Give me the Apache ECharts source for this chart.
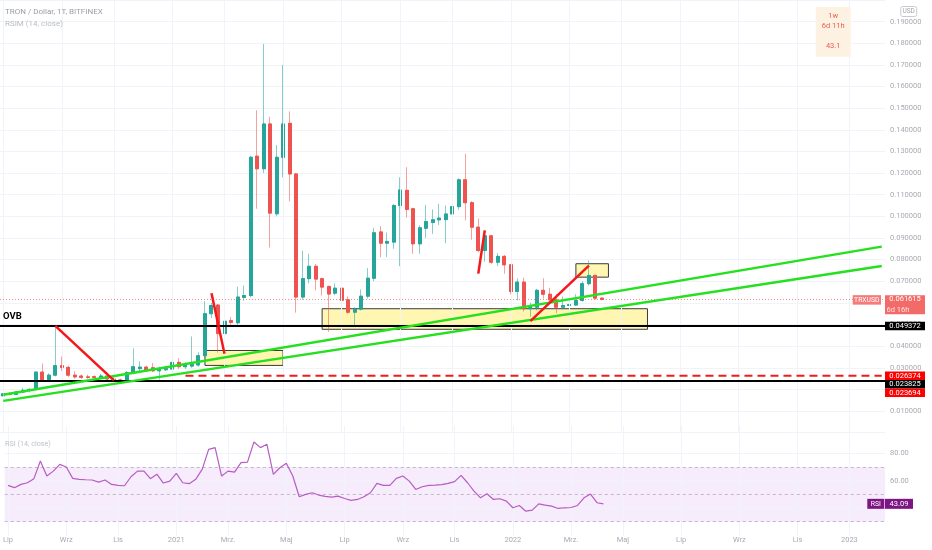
<!DOCTYPE html>
<html>
<head>
<meta charset="utf-8">
<script src="https://cdn.jsdelivr.net/npm/echarts@6/dist/echarts.min.js"></script>
<style>
  html, body { margin: 0; padding: 0; background: #fff; }
  #chart { width: 932px; height: 550px; }
</style>
</head>
<body>
<div id="chart"></div>
<script>
// weekly TRX/USD candles, first bar = week of 2020-07-06
var opens = [0.0170,0.0181,0.0177,0.0188,0.0196,0.0200,0.0280,0.0241,0.0266,0.0310,
  0.0302,0.0266,0.0262,0.0258,0.0259,0.0256,0.0262,0.0248,0.0244,0.0241,
  0.0278,0.0296,0.0303,0.0300,0.0286,0.0291,0.0294,0.0325,0.0305,0.0308,
  0.0313,0.0356,0.0550,0.0590,0.0458,0.0518,0.0508,0.0625,0.0634,0.1278,
  0.1220,0.1427,0.1012,0.1273,0.1430,0.1196,0.0627,0.0712,0.0769,0.0712,
  0.0676,0.0645,0.0668,0.0614,0.0557,0.0571,0.0631,0.0714,0.0928,0.0876,
  0.0881,0.1050,0.1120,0.1035,0.0873,0.0945,0.0972,0.0984,0.0985,0.1011,
  0.1045,0.1169,0.1063,0.0950,0.0842,0.0910,0.0788,0.0815,0.0776,0.0653,
  0.0696,0.0573,0.0580,0.0658,0.0640,0.0614,0.0580,0.0588,0.0590,0.0611,
  0.0689,0.0727,0.0622];
var highs = [0.0185,0.0188,0.0192,0.0208,0.0206,0.0285,0.0320,0.0275,0.0494,0.0352,
  0.0310,0.0284,0.0270,0.0268,0.0265,0.0272,0.0266,0.0255,0.0250,0.0285,
  0.0390,0.0330,0.0310,0.0322,0.0305,0.0310,0.0360,0.0345,0.0325,0.0445,
  0.0372,0.0608,0.0600,0.0595,0.0530,0.0535,0.0675,0.0680,0.1280,0.1490,
  0.1797,0.1460,0.1330,0.1700,0.1485,0.1200,0.0842,0.0827,0.0780,0.0716,
  0.0680,0.0690,0.0672,0.0630,0.0580,0.0662,0.0761,0.0947,0.0955,0.0925,
  0.1058,0.1181,0.1227,0.1040,0.0958,0.1053,0.1032,0.1058,0.1050,0.1100,
  0.1176,0.1289,0.1070,0.0990,0.0925,0.0912,0.0830,0.0822,0.0780,0.0714,
  0.0716,0.0601,0.0665,0.0714,0.0670,0.0640,0.0630,0.0635,0.0640,0.0700,
  0.0796,0.0730,0.0625];
var lows = [0.0165,0.0172,0.0175,0.0184,0.0186,0.0196,0.0236,0.0235,0.0260,0.0286,
  0.0258,0.0250,0.0248,0.0250,0.0250,0.0252,0.0242,0.0238,0.0236,0.0238,
  0.0270,0.0285,0.0282,0.0280,0.0245,0.0285,0.0285,0.0295,0.0295,0.0300,
  0.0305,0.0350,0.0530,0.0370,0.0440,0.0495,0.0490,0.0610,0.0625,0.1035,
  0.1200,0.0856,0.1000,0.1180,0.1070,0.0555,0.0615,0.0690,0.0658,0.0634,
  0.0466,0.0635,0.0600,0.0550,0.0490,0.0565,0.0620,0.0700,0.0811,0.0812,
  0.0850,0.0770,0.0995,0.0827,0.0827,0.0900,0.0919,0.0960,0.0876,0.0985,
  0.1030,0.0981,0.0892,0.0835,0.0790,0.0780,0.0770,0.0735,0.0640,0.0611,
  0.0560,0.0535,0.0565,0.0620,0.0600,0.0553,0.0570,0.0578,0.0585,0.0605,
  0.0680,0.0615,0.0612];
var closes = [0.0180,0.0177,0.0188,0.0196,0.0200,0.0280,0.0241,0.0266,0.0310,0.0302,
  0.0266,0.0258,0.0256,0.0255,0.0256,0.0262,0.0248,0.0242,0.0241,0.0278,
  0.0305,0.0303,0.0286,0.0286,0.0294,0.0297,0.0325,0.0305,0.0315,0.0316,
  0.0356,0.0550,0.0588,0.0458,0.0515,0.0510,0.0627,0.0634,0.1273,0.1220,
  0.1427,0.1015,0.1273,0.1427,0.1196,0.0627,0.0712,0.0769,0.0710,0.0673,
  0.0641,0.0668,0.0612,0.0557,0.0571,0.0631,0.0714,0.0924,0.0876,0.0884,
  0.1050,0.1122,0.1032,0.0873,0.0947,0.0976,0.0984,0.0992,0.1011,0.1045,
  0.1169,0.1063,0.0950,0.0842,0.0910,0.0788,0.0815,0.0776,0.0653,0.0696,
  0.0573,0.0585,0.0658,0.0640,0.0614,0.0580,0.0588,0.0592,0.0611,0.0689,
  0.0727,0.0622,0.061615];
var rsi = [56.6,54.9,57.3,58.5,61.5,74.4,63.4,67.0,71.9,70.0,
  61.7,61.0,60.7,60.5,59.0,60.5,57.3,56.6,56.3,62.9,
  67.0,67.0,61.5,64.8,58.3,59.7,65.3,58.5,57.8,61.0,
  68.3,82.9,84.2,63.4,67.0,66.3,73.2,73.6,88.3,84.2,
  86.6,64.6,69.5,72.7,63.4,48.3,50.0,51.2,49.5,48.5,
  48.0,48.7,47.0,45.6,46.3,48.3,51.2,58.0,56.6,56.6,
  61.7,63.4,59.7,53.6,55.6,56.6,56.8,57.1,58.0,59.3,
  63.9,58.5,52.4,47.5,50.5,46.3,46.8,45.1,40.2,41.9,
  37.7,38.5,43.1,42.1,41.4,39.7,40.2,40.4,41.9,47.5,
  50.2,43.9,43.09];

var tickLabels = [
  ['2020-07-06', 'Lip'], ['2020-09-07', 'Wrz'], ['2020-11-02', 'Lis'], ['2021-01-04', '2021'],
  ['2021-03-01', 'Mrz.'], ['2021-05-03', 'Maj'], ['2021-07-05', 'Lip'], ['2021-09-06', 'Wrz'],
  ['2021-11-01', 'Lis'], ['2022-01-03', '2022'], ['2022-03-07', 'Mrz.'], ['2022-05-02', 'Maj'],
  ['2022-07-04', 'Lip'], ['2022-09-05', 'Wrz'], ['2022-11-07', 'Lis'], ['2023-01-02', '2023']
];

// drawings: [startBar, startPrice, endBar, endPrice]
var trendLines = [[0, 0.01757, 135, 0.0860], [0, 0.01471, 135, 0.0771]];
var redLines = [[8, 0.0494, 17, 0.0242], [32, 0.0645, 34, 0.0365], [73, 0.0735, 74, 0.0935], [81, 0.0516, 90, 0.0772]];
// [fromBar, toBar, low, high]
var boxes = [[31, 43, 0.0311, 0.0380], [49, 99, 0.0478, 0.0573], [88, 93, 0.0719, 0.0781]];
var levelOVB = 0.049372;
var levelLow = 0.023825;
var levelDash = 0.026374;
var lastPrice = 0.061615;

var priceTags = [
  {value: 0.061615, text: ['0.061615', '6d 16h'], bg: '#f26b69'},
  {value: 0.049372, text: ['0.049372'], bg: '#000000'},
  {value: 0.026374, text: ['0.026374'], bg: '#ff0000'},
  {value: 0.023825, text: ['0.023825'], bg: '#000000'},
  {value: 0.023694, text: ['0.023694'], bg: '#ff0000'}
];

var weeks = [];
for (var i = 0; i < 136; i++) {
  weeks.push(new Date(Date.UTC(2020, 6, 6) + i * 7 * 86400000).toISOString().slice(0, 10));
}
var tickMap = {};
tickLabels.forEach(function (t) { tickMap[weeks.indexOf(t[0])] = t[1]; });

var FONT = 'Roboto, "Liberation Sans", sans-serif';
var GRID_COLOR = '#f0f3fa';
var AXIS_TEXT = '#a8abb3';

var candles = [], bodies = [];
for (var k = 0; k < opens.length; k++) {
  candles.push([opens[k], closes[k], lows[k], highs[k]]);
  bodies.push([opens[k], closes[k], Math.min(opens[k], closes[k]), Math.max(opens[k], closes[k])]);
}

function segment(l) {
  return [[weeks[l[0]], l[1]], [weeks[l[2]], l[3]]];
}

var vGrid = tickLabels.map(function (t) { return {xAxis: t[0]}; });

var series = [
  {
    type: 'line', data: [], xAxisIndex: 0, yAxisIndex: 0, z: 1, silent: true,
    markLine: {symbol: 'none', silent: true, label: {show: false}, animation: false,
      lineStyle: {color: GRID_COLOR, width: 1, type: 'solid'}, data: vGrid}
  },
  {
    type: 'line', data: [], xAxisIndex: 1, yAxisIndex: 1, z: 1, silent: true,
    markLine: {symbol: 'none', silent: true, label: {show: false}, animation: false,
      lineStyle: {color: GRID_COLOR, width: 1, type: 'solid'},
      data: vGrid.concat([{yAxis: 80}, {yAxis: 60}, {yAxis: 40}])}
  },
  {
    name: 'wick', type: 'candlestick', xAxisIndex: 0, yAxisIndex: 0, z: 2,
    barWidth: 3.5, data: candles, clip: false,
    itemStyle: {color: 'rgba(38,166,154,0.55)', color0: 'rgba(239,83,80,0.55)',
      borderColor: 'rgba(38,166,154,0.55)', borderColor0: 'rgba(239,83,80,0.55)', borderWidth: 1}
  },
  {
    name: 'TRXUSD', type: 'candlestick', xAxisIndex: 0, yAxisIndex: 0, z: 3,
    barWidth: 3.5, data: bodies, clip: false,
    itemStyle: {color: '#26a69a', color0: '#ef5350',
      borderColor: '#26a69a', borderColor0: '#ef5350', borderWidth: 1},
    markLine: {symbol: 'none', silent: true, label: {show: false}, animation: false, precision: 6,
      data: [
        {yAxis: lastPrice, lineStyle: {color: 'rgba(239,83,80,0.7)', width: 1, type: [1, 2]}},
        {yAxis: levelOVB, lineStyle: {color: '#000', width: 2, type: 'solid'}},
        {yAxis: levelLow, lineStyle: {color: '#000', width: 2, type: 'solid'}}
      ]}
  },
  {
    type: 'line', data: [], xAxisIndex: 0, yAxisIndex: 0, z: 4, silent: true,
    markArea: {silent: true, animation: false,
      itemStyle: {color: 'rgba(255,236,70,0.42)', borderColor: '#3a3a3a', borderWidth: 1},
      data: boxes.map(function (b) {
        return [{xAxis: weeks[b[0]], yAxis: b[3]}, {xAxis: weeks[b[1]], yAxis: b[2]}];
      })}
  },
  {
    type: 'line', xAxisIndex: 0, yAxisIndex: 0, z: 5, silent: true, symbol: 'none',
    data: [[weeks[28], levelDash], [weeks[135], levelDash]],
    lineStyle: {color: '#f21b1b', width: 2, type: [8, 5]}
  }
];

trendLines.forEach(function (l) {
  series.push({type: 'line', xAxisIndex: 0, yAxisIndex: 0, z: 5, silent: true, symbol: 'none',
    data: segment(l), lineStyle: {color: '#24e01e', width: 2.5}});
});
redLines.forEach(function (l) {
  series.push({type: 'line', xAxisIndex: 0, yAxisIndex: 0, z: 6, silent: true, symbol: 'none',
    data: segment(l), lineStyle: {color: '#f5171a', width: 2.5}});
});

series.push({
  name: 'RSI', type: 'line', xAxisIndex: 1, yAxisIndex: 1, z: 5, symbol: 'none',
  data: rsi, lineStyle: {color: '#b85cc4', width: 1.2},
  markArea: {silent: true, animation: false,
    itemStyle: {color: 'rgba(170,80,230,0.11)'},
    data: [[{yAxis: 30}, {yAxis: 70}]]},
  markLine: {symbol: 'none', silent: true, label: {show: false}, animation: false,
    lineStyle: {color: '#c3b6cb', width: 1, type: [3, 3]},
    data: [{yAxis: 70}, {yAxis: 50}, {yAxis: 30}]}
});

var option = {
  animation: false,
  backgroundColor: '#ffffff',
  textStyle: {fontFamily: FONT},
  grid: [
    {left: -2, right: 47, top: -0.65, height: 433.35},
    {left: -2, right: 47, top: 426, height: 109.4}
  ],
  xAxis: [
    {type: 'category', gridIndex: 0, data: weeks, boundaryGap: true,
      axisLine: {show: false}, axisTick: {show: false}, axisLabel: {show: false}, splitLine: {show: false}},
    {type: 'category', gridIndex: 1, data: weeks, boundaryGap: true,
      axisLine: {show: false}, axisTick: {show: false}, splitLine: {show: false},
      axisLabel: {
        color: AXIS_TEXT, fontSize: 7.5, fontFamily: FONT, margin: 1,
        interval: function (idx) { return tickMap[idx] !== undefined; },
        formatter: function (val, idx) { return tickMap[idx] || ''; }
      }}
  ],
  yAxis: [
    {type: 'value', gridIndex: 0, position: 'right', min: 0, max: 0.2, interval: 0.01,
      axisLine: {show: false}, axisTick: {show: false},
      splitLine: {lineStyle: {color: GRID_COLOR, width: 1}},
      axisLabel: {color: AXIS_TEXT, fontSize: 7.5, fontFamily: FONT, margin: 5,
        showMinLabel: false, showMaxLabel: false,
        formatter: function (v) { return v.toFixed(6); }}},
    {type: 'value', gridIndex: 1, position: 'right', min: 20, max: 100, interval: 20,
      axisLine: {show: false}, axisTick: {show: false}, splitLine: {show: false},
      axisLabel: {color: AXIS_TEXT, fontSize: 7.5, fontFamily: FONT, margin: 5,
        formatter: function (v) { return (v === 60 || v === 80) ? v.toFixed(2) : ''; }}}
  ],
  series: series
};

var chart = echarts.init(document.getElementById('chart'));
chart.setOption(option);

var yPrice = function (v) { return chart.convertToPixel({yAxisIndex: 0}, v); };
var yRsi = function (v) { return chart.convertToPixel({yAxisIndex: 1}, v); };

var g = [];
function text(str, x, y, opt) {
  g.push({type: 'text', z: 100, style: {
    text: str, x: x, y: y, fill: opt.fill || '#fff', fontSize: opt.size || 7.5,
    fontFamily: FONT, fontWeight: opt.weight || 'normal',
    align: opt.align || 'left', verticalAlign: 'middle'}});
}
function rect(x, y, w, h, fill, stroke) {
  g.push({type: 'rect', z: 99, shape: {x: x, y: y, width: w, height: h, r: stroke ? 2 : 0},
    style: {fill: fill, stroke: stroke || null, lineWidth: stroke ? 1 : 0}});
}

// header
text('TRON / Dollar, 1T, BITFINEX', 5, 11.5, {fill: '#9a9da5', size: 8});
text('RSIM (14, close)', 5, 24, {fill: '#b9bcc3', size: 8});
text('RSI (14, close)', 5, 444.5, {fill: '#bfc2c8', size: 7.2});
text('OVB', 3, yPrice(levelOVB) - 9, {fill: '#000', size: 9.5, weight: 'bold'});

// top-right indicator box
rect(815.7, 7, 35, 49.7, '#fdf1e2');
text('1w', 833.2, 16, {fill: '#ef5a50', align: 'center'});
text('6d 11h', 833.2, 26, {fill: '#ef5a50', align: 'center'});
text('43.1', 833.2, 46, {fill: '#ef5a50', align: 'center'});
rect(900.7, 6.5, 16, 10, '#ffffff', '#c8cbd1');
text('USD', 908.7, 11.7, {fill: '#a0a3ab', size: 6.5, align: 'center'});

// price tags, stacked so they do not overlap
var placed = priceTags.map(function (t) { return {t: t, y: yPrice(t.value)}; })
  .sort(function (a, b) { return a.y - b.y; });
var prevBottom = -Infinity;
placed.forEach(function (p) {
  var h = p.t.text.length > 1 ? 19 : 8.5;
  var top = Math.max(p.y - 4.25, prevBottom);
  prevBottom = top + h;
  rect(885, top, 40, h, p.t.bg);
  text(p.t.text[0], 905, top + 4.4, {align: 'center'});
  if (p.t.text[1]) text(p.t.text[1], 898, top + 14.5, {align: 'center', fill: '#fde5e4'});
});
var yLast = yPrice(lastPrice);
rect(852.7, yLast - 4.25, 28.3, 9.5, '#f47b79');
text('TRXUSD', 866.8, yLast + 0.5, {align: 'center', size: 6.8});

// RSI tags
var yR = yRsi(rsi[rsi.length - 1]);
rect(867.3, yR - 5, 17, 10, '#7e1584');
rect(885, yR - 5, 28, 10, '#7e1584');
text('RSI', 875.8, yR, {align: 'center', size: 6.8});
text(rsi[rsi.length - 1].toFixed(2), 899, yR, {align: 'center', size: 7.5});

chart.setOption({graphic: g});
</script>
</body>
</html>
